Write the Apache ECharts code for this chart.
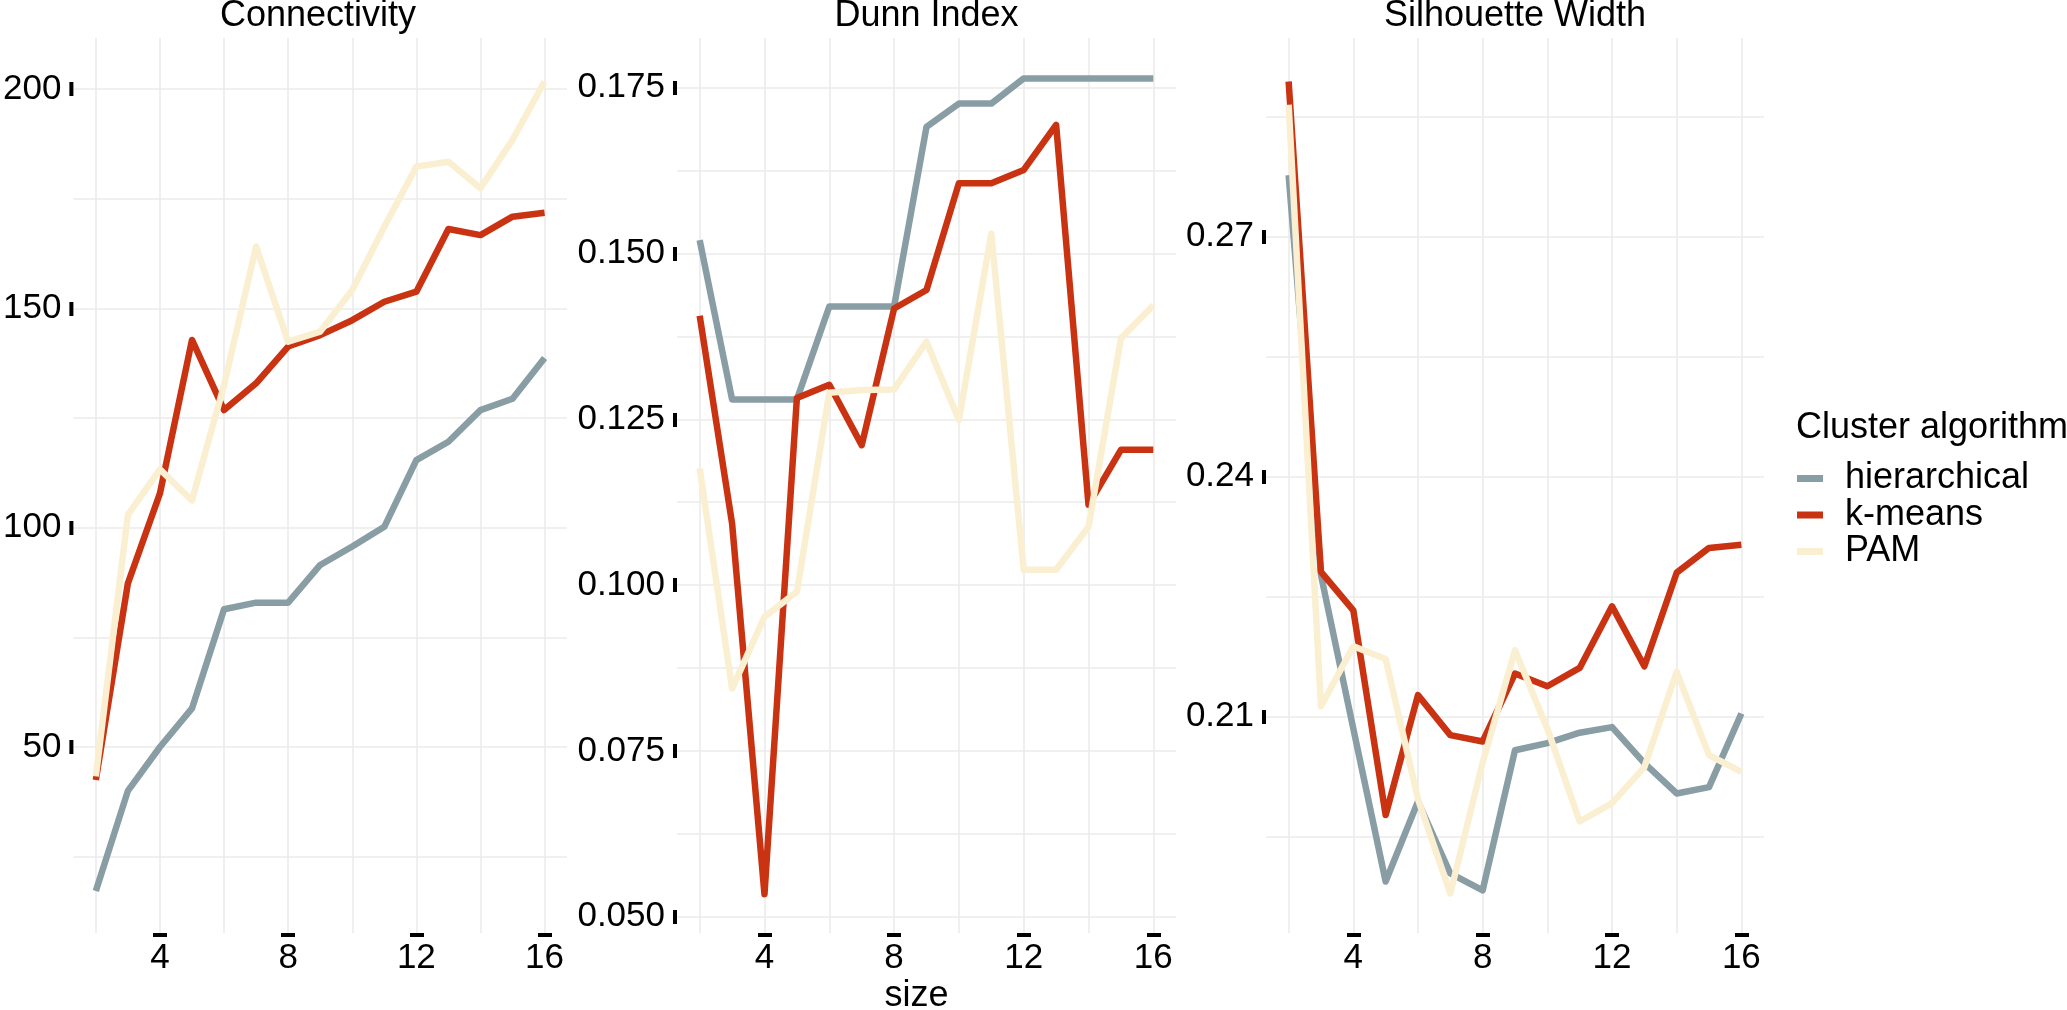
<!DOCTYPE html>
<html><head><meta charset="utf-8">
<script src="https://cdn.jsdelivr.net/npm/echarts@6/dist/echarts.min.js"></script>
<style>html,body{margin:0;padding:0;background:#fff}#c{width:2067px;height:1010px}</style>
</head><body><div id="c"></div>
<script>
// ---- data ----
const sizes = [2, 3, 4, 5, 6, 7, 8, 9, 10, 11, 12, 13, 14, 15, 16];
const algorithms = ['hierarchical', 'k-means', 'PAM'];
const panelTitles = ['Connectivity', 'Dunn Index', 'Silhouette Width'];

const connHier = [17.2, 40.0, 50.0, 58.8, 81.4, 82.9, 82.9, 91.5, 95.7, 100.2, 115.4, 119.6, 126.8, 129.4, 138.7];
const connKm   = [42.5, 87.3, 107.8, 142.8, 126.8, 132.9, 141.3, 143.9, 147.3, 151.5, 153.8, 168.1, 166.7, 170.9, 171.8];
const connPam  = [43.3, 102.9, 113.3, 106.2, 132.5, 164.1, 142.4, 144.7, 154.2, 168.6, 182.3, 183.4, 177.4, 188.4, 201.7];

const dunnHier = [0.1520, 0.1280, 0.1280, 0.1280, 0.1420, 0.1420, 0.1420, 0.1691, 0.1726, 0.1726, 0.1764, 0.1764, 0.1764, 0.1764, 0.1764];
const dunnKm   = [0.1406, 0.1093, 0.0534, 0.1282, 0.1302, 0.1211, 0.1417, 0.1445, 0.1606, 0.1606, 0.1626, 0.1694, 0.1121, 0.1204, 0.1204];
const dunnPam  = [0.1176, 0.0844, 0.0952, 0.0990, 0.1290, 0.1294, 0.1295, 0.1367, 0.1249, 0.1530, 0.1023, 0.1023, 0.1088, 0.1372, 0.1422];

const silHier = [0.2777, 0.2277, 0.2085, 0.1894, 0.1994, 0.1904, 0.1883, 0.2058, 0.2067, 0.2080, 0.2087, 0.2042, 0.2004, 0.2012, 0.2104];
const silKm   = [0.2894, 0.2281, 0.2233, 0.1977, 0.2127, 0.2077, 0.2069, 0.2154, 0.2138, 0.2161, 0.2238, 0.2163, 0.2280, 0.2311, 0.2315];
const silPam  = [0.2865, 0.2113, 0.2188, 0.2172, 0.1997, 0.1879, 0.2043, 0.2183, 0.2085, 0.1969, 0.1992, 0.2037, 0.2156, 0.2052, 0.2031];

const xTickLabels = [4, 8, 12, 16];
const connTickLabels = [50, 100, 150, 200];
const dunnTickLabels = [0.05, 0.075, 0.1, 0.125, 0.15, 0.175];
const silTickLabels = [0.21, 0.24, 0.27];

// ---- style / layout ----
const FONT = '"Liberation Sans", Arial, Helvetica, sans-serif';
const colors = ['#899DA4', '#C93312', '#FAEFD1'];
const gridTop = 38, gridHeight = 895;
const panels = [
  { left: 69,  width: 498, yMin: 7.6,    yMax: 211.63,  yStep: 25,     ticks: connTickLabels, dec: 0, data: [connHier, connKm, connPam] },
  { left: 677, width: 499, yMin: 0.04754, yMax: 0.18249, yStep: 0.0125, ticks: dunnTickLabels, dec: 3, data: [dunnHier, dunnKm, dunnPam] },
  { left: 1266, width: 498, yMin: 0.18296, yMax: 0.29484, yStep: 0.015, ticks: silTickLabels, dec: 2, data: [silHier, silKm, silPam] }
];
const xMin = 1.3, xMax = 16.7;

const grid = [], xAxis = [], yAxis = [], series = [], graphic = [];
panels.forEach((p, i) => {
  grid.push({ left: p.left, top: gridTop, width: p.width, height: gridHeight, containLabel: false });
  const split = { show: true, showMinLine: false, showMaxLine: false, lineStyle: { color: '#ebebeb', width: 1.6 } };
  // data axes (grid lines)
  xAxis.push({ type: 'value', gridIndex: i, min: xMin, max: xMax, minInterval: 2, maxInterval: 2,
    axisLine: { show: false }, axisTick: { show: false }, axisLabel: { show: false }, splitLine: split });
  yAxis.push({ type: 'value', gridIndex: i, min: p.yMin, max: p.yMax, minInterval: p.yStep, maxInterval: p.yStep,
    axisLine: { show: false }, axisTick: { show: false }, axisLabel: { show: false }, splitLine: split });
  // label axes
  xAxis.push({ type: 'value', gridIndex: i, position: 'bottom', min: xMin, max: xMax,
    axisLine: { show: false }, splitLine: { show: false },
    axisTick: { show: true, customValues: xTickLabels, length: 4, lineStyle: { color: '#000', width: 14 } },
    axisLabel: { show: true, customValues: xTickLabels, margin: 8, color: '#000', fontSize: 35, fontFamily: FONT } });
  yAxis.push({ type: 'value', gridIndex: i, position: 'left', min: p.yMin, max: p.yMax,
    axisLine: { show: false }, splitLine: { show: false },
    axisTick: { show: true, customValues: p.ticks, length: 4, lineStyle: { color: '#000', width: 14 } },
    axisLabel: { show: true, customValues: p.ticks, margin: 12, color: '#000', fontSize: 35, fontFamily: FONT,
      formatter: v => Number(v).toFixed(p.dec) } });
  p.data.forEach((vals, k) => {
    series.push({
      type: 'line', name: algorithms[k], xAxisIndex: 2 * i, yAxisIndex: 2 * i,
      data: sizes.map((s, j) => [s, vals[j]]),
      showSymbol: false, symbol: 'none', color: colors[k],
      lineStyle: { color: colors[k], width: 6.5, join: 'round', cap: 'butt' },
      z: 2 + k, silent: true
    });
  });
  graphic.push({ type: 'text', x: p.left + p.width / 2, y: 16,
    style: { text: panelTitles[i], font: '36px ' + FONT, fill: '#000', textAlign: 'center', textVerticalAlign: 'middle' } });
});

graphic.push({ type: 'text', x: 916.5, y: 996,
  style: { text: 'size', font: '36px ' + FONT, fill: '#000', textAlign: 'center', textVerticalAlign: 'middle' } });
graphic.push({ type: 'text', x: 1796, y: 428,
  style: { text: 'Cluster algorithm', font: '36px ' + FONT, fill: '#000', textAlign: 'left', textVerticalAlign: 'middle' } });

const chart = echarts.init(document.getElementById('c'), null, { renderer: 'canvas' });
chart.setOption({
  animation: false,
  backgroundColor: '#fff',
  grid, xAxis, yAxis, series, graphic,
  legend: {
    data: algorithms, orient: 'vertical', left: 1797, top: 460.5, padding: 0,
    icon: 'rect', itemWidth: 26, itemHeight: 7, itemGap: 0.5, selectedMode: false,
    itemStyle: { borderWidth: 0 },
    textStyle: { fontSize: 36, fontFamily: FONT, color: '#000', lineHeight: 35, padding: [0, 0, 0, 17] }
  }
});
</script></body></html>
